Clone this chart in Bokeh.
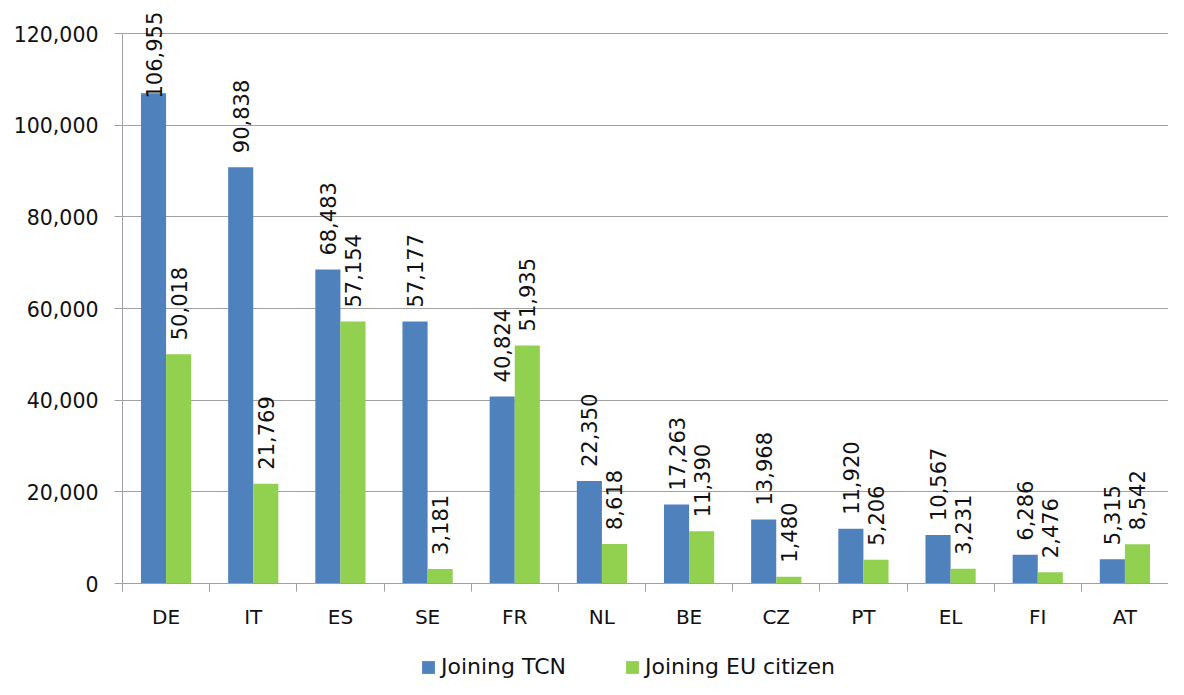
import math
from bokeh.plotting import figure
from bokeh.layouts import column
from bokeh.core.properties import value
from bokeh.models import (Range1d, FixedTicker, NumeralTickFormatter, LabelSet,
                          ColumnDataSource, Legend, LegendItem)
from bokeh.embed import file_html
from bokeh.resources import INLINE

categories = ["DE", "IT", "ES", "SE", "FR", "NL", "BE", "CZ", "PT", "EL", "FI", "AT"]
joining_tcn = [106955, 90838, 68483, 57177, 40824, 22350, 17263, 13968, 11920, 10567, 6286, 5315]
joining_eu = [50018, 21769, 57154, 3181, 51935, 8618, 11390, 1480, 5206, 3231, 2476, 8542]
series_names = ["Joining TCN", "Joining EU citizen"]
y_ticks = [0, 20000, 40000, 60000, 80000, 100000, 120000]

BLUE = "#4F81BD"
GREEN = "#92D050"
GRAY = "#A0A0A0"
FONT = "DejaVu Sans"
TXT = "#111111"

W = 1168
H_MAIN, H_LEG = 640, 39
LEFT = 122
AXIS_PX = 550          # pixels from 0 to the top tick
HEADROOM = 25          # extra frame space above the top tick for value labels
TOP = 33 - HEADROOM
FRAME_H = AXIS_PX + HEADROOM
BOTTOM = H_MAIN - TOP - FRAME_H
YMAX = y_ticks[-1]
Y_VIEW_MAX = YMAX * FRAME_H / AXIS_PX

BAR_W = 0.288
OFF = 0.144

n = len(categories)
centers = [i + 0.5 for i in range(n)]


def label_offsets(vals):
    # offset of label start above the bar top, clamped to keep the label in view
    out = []
    max_start = AXIS_PX + 23 - 88
    for v in vals:
        px = v / YMAX * AXIS_PX
        out.append(min(14, max_start - px))
    return out


src_tcn = ColumnDataSource(dict(
    x=[c - OFF for c in centers], top=joining_tcn,
    lab=[f"{v:,}" for v in joining_tcn], yoff=label_offsets(joining_tcn)))
src_eu = ColumnDataSource(dict(
    x=[c + OFF for c in centers], top=joining_eu,
    lab=[f"{v:,}" for v in joining_eu], yoff=label_offsets(joining_eu)))

p = figure(width=W, height=H_MAIN, output_backend="svg", toolbar_location=None,
           x_range=Range1d(0, n), y_range=Range1d(0, Y_VIEW_MAX),
           min_border_left=LEFT, min_border_right=0,
           min_border_top=TOP, min_border_bottom=BOTTOM)
p.outline_line_color = None

p.vbar(x="x", top="top", width=BAR_W, bottom=0, source=src_tcn,
       fill_color=BLUE, line_color=None)
p.vbar(x="x", top="top", width=BAR_W, bottom=0, source=src_eu,
       fill_color=GREEN, line_color=None)

for src in (src_tcn, src_eu):
    p.add_layout(LabelSet(x="x", y="top", text="lab", source=src, angle=math.pi / 2,
                          y_offset="yoff", text_align="left", text_baseline="middle",
                          text_font=value(FONT), text_font_size=value("21px"),
                          text_color=value(TXT)))

# x axis
xa = p.xaxis[0]
xa.ticker = FixedTicker(ticks=centers, minor_ticks=list(range(n + 1)))
xa.major_label_overrides = {c: cat for c, cat in zip(centers, categories)}
xa.major_tick_line_color = None
xa.major_tick_out = 0
xa.major_tick_in = 0
xa.minor_tick_line_color = GRAY
xa.minor_tick_out = 8
xa.minor_tick_in = 0
xa.axis_line_color = GRAY
xa.major_label_text_font = FONT
xa.major_label_text_font_size = "20px"
xa.major_label_text_color = TXT
xa.major_label_standoff = 13

# y axis
ya = p.yaxis[0]
ya.ticker = FixedTicker(ticks=y_ticks)
ya.bounds = (0, YMAX)
ya.formatter = NumeralTickFormatter(format="0,0")
ya.axis_line_color = GRAY
ya.major_tick_line_color = GRAY
ya.major_tick_out = 8
ya.major_tick_in = 0
ya.minor_tick_line_color = None
ya.major_label_text_font = FONT
ya.major_label_text_font_size = "20.5px"
ya.major_label_text_color = TXT
ya.major_label_standoff = 16

p.xgrid.grid_line_color = None
p.ygrid.grid_line_color = GRAY
p.ygrid.grid_line_width = 1

# legend strip below the chart (its series renderers sit outside its visible ranges)
p2 = figure(width=W, height=H_LEG, output_backend="svg", toolbar_location=None,
            x_range=Range1d(-200, -199), y_range=Range1d(-2e6, -1e6),
            x_axis_location=None, y_axis_location=None,
            min_border_left=0, min_border_right=0, min_border_top=0, min_border_bottom=0)
p2.outline_line_color = None
p2.xgrid.grid_line_color = None
p2.ygrid.grid_line_color = None
l1 = p2.vbar(x="x", top="top", width=BAR_W, bottom=0, source=src_tcn,
             fill_color=BLUE, line_color=None)
l2 = p2.vbar(x="x", top="top", width=BAR_W, bottom=0, source=src_eu,
             fill_color=GREEN, line_color=None)
legend = Legend(items=[LegendItem(label=series_names[0], renderers=[l1]),
                       LegendItem(label=series_names[1], renderers=[l2])],
                orientation="horizontal", location=(298, 0),
                glyph_width=16, glyph_height=16, label_standoff=5, spacing=58,
                padding=0, margin=0, border_line_color=None,
                background_fill_alpha=0,
                label_text_font=FONT, label_text_font_size="22px",
                label_text_color=TXT)
p2.add_layout(legend, "center")

layout = column(p, p2, spacing=0)
open("out.html", "w").write(file_html(layout, INLINE))
